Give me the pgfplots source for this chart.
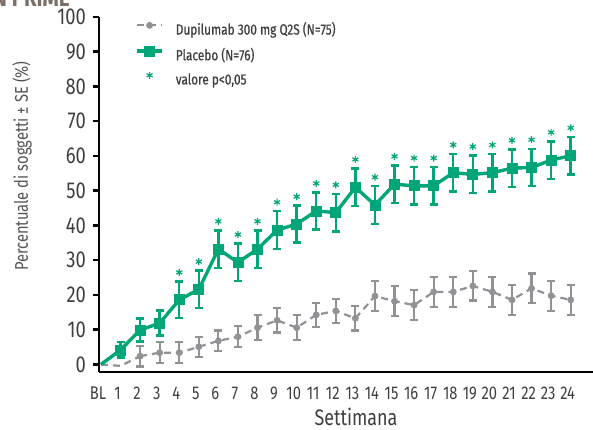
\documentclass[border=0pt]{standalone}
\usepackage{fontspec}
\setmainfont{Fira Sans}[FakeStretch=0.8]
\newfontfamily\legfont{Fira Sans}[FakeStretch=0.8, FakeBold=0.6]
\usepackage{pgfplots}
\pgfplotsset{compat=1.18}
\definecolor{pgreen}{HTML}{00A677}
\definecolor{dgrey}{HTML}{909295}
\definecolor{tcol}{HTML}{3F3F3F}
\definecolor{lcol}{HTML}{555555}
\definecolor{titlecol}{HTML}{7A6E66}

\begin{document}
\begin{tikzpicture}[x=1pt,y=1pt]
\begin{axis}[
  at={(0,0)}, anchor=south west,
  scale only axis, width=247pt, height=177.5pt,
  xmin=-0.1, xmax=25.14, ymin=-2.16, ymax=100,
  axis x line*=bottom, axis y line*=left,
  axis line style={line width=1.25pt, black, -},
  ytick={0,10,...,100},
  xtick={0,...,24},
  xticklabels={BL,1,2,3,4,5,6,7,8,9,10,11,12,13,14,15,16,17,18,19,20,21,22,23,24},
  tick align=outside, major tick length=3pt,
  y tick style={line width=1.25pt, black},
  x tick style={draw=none},
  /pgf/number format/assume math mode=true,
  yticklabel style={font=\fontsize{11.5}{12}\selectfont, text=tcol},
  xticklabel style={font=\fontsize{9.2}{10}\selectfont, text=tcol, yshift=-1pt, xshift=-1.5pt},
  clip=false,
  legend image code/.code={\draw[mark repeat=2,mark phase=2,#1] plot coordinates {(0pt,2.6pt) (6.25pt,2.6pt) (12.5pt,2.6pt)};},
  legend style={at={(rel axis cs:0.0729,0.986)}, anchor=north west, draw=none, fill=none,
     inner sep=0pt, row sep=3.75pt, font=\legfont\fontsize{7.4}{8}\selectfont, text=tcol,
     nodes={inner sep=0pt, text height=6pt, text depth=2pt},
     /tikz/every odd column/.append style={column sep=6pt}},
  legend cell align=left,
]
% Dupilumab (grey dashed) - connecting line from BL
\addplot[dgrey, line width=1.1pt, dash pattern=on 3.5pt off 2.5pt, forget plot]
  coordinates {(0,0) (1,-0.4) (2,2.4)};
\addplot[dgrey, line width=1.1pt, dash pattern=on 3.5pt off 2.5pt,
  mark=*, mark size=1.5pt, mark options={solid, fill=dgrey, line width=0.4pt},
  error bars/.cd, y dir=both, y explicit,
  error bar style={line width=1.1pt, solid, dgrey},
  error mark options={rotate=90, line width=1.1pt, mark size=2pt, dgrey, solid}]
  coordinates {
  (2,2.4) +- (0,3.0)
  (3,3.4) +- (0,3.0)
  (4,3.4) +- (0,3.0)
  (5,5.1) +- (0,2.9)
  (6,6.8) +- (0,3.0)
  (7,8.0) +- (0,3.0)
  (8,10.6) +- (0,3.6)
  (9,12.7) +- (0,3.5)
  (10,10.6) +- (0,3.6)
  (11,14.3) +- (0,3.4)
  (12,15.4) +- (0,3.5)
  (13,13.3) +- (0,3.5)
  (14,19.7) +- (0,4.3)
  (15,18.2) +- (0,4.3)
  (16,17.1) +- (0,4.3)
  (17,20.9) +- (0,4.3)
  (18,20.9) +- (0,4.3)
  (19,22.6) +- (0,4.2)
  (20,20.9) +- (0,4.3)
  (21,18.6) +- (0,4.3)
  (22,21.9) +- (0,4.3)
  (23,19.8) +- (0,4.3)
  (24,18.6) +- (0,4.3)
  };
\addlegendentry{Dupilumab 300 mg Q2S (N=75)}
% Placebo (green)
\addplot[pgreen, line width=1.7pt, forget plot] coordinates {(0,0) (1,4.2)};
\addplot[pgreen, line width=1.7pt,
  mark=square*, mark size=2.5pt, mark options={solid, fill=pgreen, line width=0.4pt},
  error bars/.cd, y dir=both, y explicit,
  error bar style={line width=1.2pt, pgreen},
  error mark options={rotate=90, line width=1.2pt, mark size=2pt, pgreen}]
  coordinates {
  (1,4.2) +- (0,2.2)
  (2,9.9) +- (0,3.3)
  (3,11.9) +- (0,3.6)
  (4,18.6) +- (0,5.3)
  (5,21.6) +- (0,5.4)
  (6,33.2) +- (0,5.4)
  (7,29.4) +- (0,5.4)
  (8,33.2) +- (0,5.4)
  (9,38.7) +- (0,5.4)
  (10,40.4) +- (0,5.3)
  (11,44.2) +- (0,5.3)
  (12,43.7) +- (0,5.4)
  (13,51.0) +- (0,5.4)
  (14,45.9) +- (0,5.4)
  (15,51.9) +- (0,5.4)
  (16,51.4) +- (0,5.4)
  (17,51.4) +- (0,5.4)
  (18,55.2) +- (0,5.4)
  (19,54.7) +- (0,5.4)
  (20,55.2) +- (0,5.4)
  (21,56.5) +- (0,5.4)
  (22,56.7) +- (0,5.4)
  (23,58.8) +- (0,5.4)
  (24,60.1) +- (0,5.4)
  };
\addlegendentry{Placebo (N=76)}
% significance asterisks
\addplot[pgreen, only marks, mark=asterisk, mark size=1.75pt, mark options={line width=0.6pt}]
  coordinates {
  (4,26.5) (5,29.6) (6,41.2) (7,37.4) (8,41.2) (9,46.7) (10,48.3)
  (11,52.1) (12,51.7) (13,59.0) (14,53.9) (15,59.9) (16,59.4) (17,59.4)
  (18,63.2) (19,62.7) (20,63.2) (21,64.5) (22,64.7) (23,66.8) (24,68.1)
  };
\addlegendentry{valore p<0,05}
\end{axis}
\node[rotate=90, font=\fontsize{9.2}{10}\selectfont, text=lcol] at (-38.5pt,103pt)
  {Percentuale di soggetti ± SE (\%)};
\node[anchor=base, inner sep=0pt, font=\fontsize{11.2}{12}\selectfont, text=tcol] at (128.5pt,-26.5pt) {Settimana};
\node[anchor=base east, inner sep=0pt, font=\bfseries\fontsize{12.8}{14}\selectfont, text=titlecol]
  at (-14.5pt,182.5pt) {LIBERTY-PN PRIME};
\pgfresetboundingbox
\useasboundingbox (-49.5pt,-28.5pt) rectangle (247pt,186pt);
\end{tikzpicture}
\end{document}
